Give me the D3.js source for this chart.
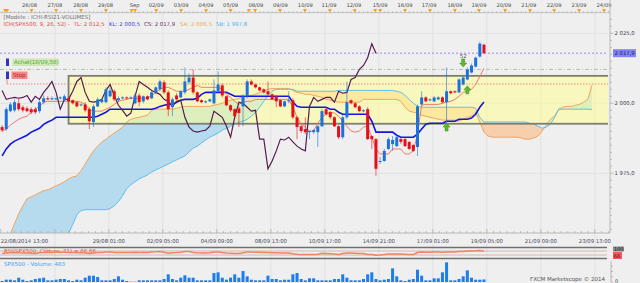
<!DOCTYPE html>
<html>
<head>
<meta charset="utf-8">
<script src="https://cdn.jsdelivr.net/npm/d3@7"></script>
<style>
  html, body { margin: 0; padding: 0; background: #efefef; }
  svg { display: block; font-family: "DejaVu Sans", Verdana, sans-serif; }
</style>
</head>
<body>
<svg id="vis"></svg>
<script>
/**
 * Call our functions on window load event
 */
window.onload = function(){
    setup();
};

// panel boxes (magic numbers)
const MAIN = {left: 0, right: 608, top: 13, bottom: 233};
const RSI_BOX = {top: 247.5, bottom: 258.5};
const VOL_BOX = {top: 261, bottom: 282};
const AXIS_X = 610;

// 4h candles, SPX500
const opens = [1991.5,1990.8,1997.2,1997.5,2000.0,1998.6,1998.2,1997.9,1997.9,1997.2,
    2000.4,2001.8,2001.4,2001.4,2001.8,2001.1,2001.8,2001.1,2000.4,1999.3,
    1999.6,1997.9,1993.3,1998.9,2000.4,2000.4,2002.5,2004.3,2001.1,2001.8,
    2002.1,2001.8,2000.0,2002.8,2000.7,2002.5,2001.8,2003.9,2005.0,2007.5,
    2003.9,1998.6,2002.8,2002.1,2003.9,2007.5,2009.2,2003.9,2001.1,2000.4,
    2000.7,2000.0,2004.3,2006.4,2002.5,1999.3,1997.9,1998.2,1998.9,2002.5,
    2007.8,2006.7,2005.7,2005.0,2004.3,2003.2,2002.5,2001.1,1998.9,2000.7,
    2001.1,1995.0,1991.8,1990.8,1989.7,1989.7,1989.7,1991.8,1997.9,1996.8,
    1995.0,1991.8,1987.9,1995.0,2001.1,2000.0,1998.9,1997.2,1997.9,1988.3,
    1987.2,1979.1,1979.4,1983.7,1985.4,1984.7,1987.2,1987.2,1986.2,1985.1,
    1984.4,1999.6,2002.1,2001.1,2000.7,2001.4,2002.1,2000.4,2004.3,2004.3,
    2003.9,2006.7,2008.5,2011.0,2013.1,2016.7,2020.9];
const highs = [1992.2,1998.6,2000.4,2001.4,2001.8,1999.3,1998.9,1998.6,1998.6,2001.1,
    2002.8,2002.5,2002.5,2002.1,2002.5,2003.2,2002.5,2001.4,2000.7,2000.0,
    2000.4,1998.6,1999.6,2002.1,2001.8,2005.7,2005.7,2005.0,2002.5,2002.5,
    2002.5,2002.5,2003.6,2003.6,2002.8,2002.8,2004.3,2006.0,2008.5,2008.2,
    2004.6,2002.1,2003.6,2004.6,2012.8,2010.7,2012.1,2004.3,2001.4,2001.1,
    2001.8,2008.5,2011.4,2007.1,2002.8,1999.6,1998.2,1998.9,2003.2,2008.5,
    2008.5,2007.1,2006.0,2005.3,2007.8,2003.6,2002.8,2001.4,2001.1,2004.3,
    2001.8,1995.4,1992.2,1995.0,1990.4,1990.8,1992.2,1997.9,1998.6,1997.2,
    1995.4,1992.2,1995.7,2007.8,2001.4,2000.4,1999.3,1997.9,1998.6,1988.6,
    1987.6,1980.8,1983.7,1987.9,1988.3,1988.6,1987.6,1987.9,1986.5,1985.4,
    1999.6,2004.3,2002.5,2001.8,2002.5,2002.5,2002.5,2012.8,2004.6,2004.6,
    2008.9,2009.9,2012.8,2014.2,2016.7,2022.0,2021.3];
const lows = [1989.7,1990.1,1996.8,1996.8,1997.2,1996.8,1996.8,1996.1,1996.1,1996.5,
    1999.6,2001.1,2001.1,2001.1,2001.4,2000.7,2000.4,1999.6,1998.6,1998.9,
    1996.8,1990.8,1991.5,1998.6,2000.0,2000.0,2002.1,2000.7,2000.4,2001.4,
    2001.4,2001.4,1999.6,1998.9,2000.0,2001.1,2001.4,2003.2,2004.3,2003.2,
    1995.4,1995.4,2001.1,2001.8,2003.2,2006.7,2003.2,2000.4,2000.0,2000.0,
    2000.4,1999.6,2003.9,2002.1,1998.9,1996.8,1995.0,1991.5,1991.8,2001.8,
    2006.4,2005.3,2004.3,2003.6,2002.8,2001.1,1998.6,1998.6,1998.6,2000.0,
    1994.3,1987.2,1989.4,1989.0,1987.2,1989.0,1984.4,1991.5,1995.7,1994.3,
    1991.5,1987.2,1987.2,1994.3,1999.6,1998.2,1996.8,1996.8,1986.9,1983.7,
    1974.1,1978.3,1979.1,1983.3,1983.0,1984.4,1985.4,1984.4,1983.3,1982.6,
    1981.2,1999.3,2000.4,2000.7,2000.4,2001.1,2000.0,1990.8,2003.2,2003.6,
    2003.6,2006.4,2008.2,2010.7,2012.8,2016.3,2017.6];
const closes = [1990.4,1997.9,1999.6,2000.4,1997.9,1997.5,1997.2,1996.8,1996.8,2000.4,
    2001.8,2001.4,2001.8,2001.8,2002.1,2002.5,2000.7,2000.0,1998.9,1999.6,
    1997.5,1993.6,1998.9,2001.4,2001.4,2005.0,2004.6,2001.4,2001.8,2002.1,
    2001.8,2002.1,2002.8,2000.4,2002.5,2001.4,2003.9,2005.7,2007.8,2003.9,
    1997.9,2001.4,2001.4,2004.3,2007.8,2009.2,2003.9,2000.7,2000.4,2000.7,
    2001.4,2004.6,2006.7,2002.8,1999.3,1997.5,1995.4,1996.5,2002.5,2007.8,
    2006.7,2005.7,2004.6,2003.9,2003.2,2001.4,2000.7,1998.9,2000.7,2001.1,
    1995.0,1991.5,1990.1,1989.7,1990.1,1990.4,1991.8,1997.2,1996.1,1995.0,
    1991.8,1987.9,1995.0,2000.4,2000.0,1998.6,1997.2,1997.5,1987.2,1987.2,
    1976.6,1979.4,1983.0,1987.2,1986.9,1987.9,1986.2,1984.7,1983.7,1983.0,
    1998.9,2002.1,2000.7,2001.4,2002.1,2002.1,2000.4,2004.3,2003.6,2003.9,
    2008.5,2009.2,2012.1,2013.5,2016.3,2021.3,2017.9];

// ichimoku lines
const tenkan = [1990.1,1990.8,1992.2,1993.3,1994.3,1995.0,1995.4,1996.8,1997.9,1998.9,
    2000.4,2000.7,2000.7,2000.7,2000.7,2000.7,2000.7,2000.7,2000.7,2000.4,
    1999.6,1997.9,1997.2,1997.2,1997.2,1997.9,1998.6,1999.6,2000.7,2001.1,
    2001.4,2001.8,2001.8,2001.8,2001.8,2001.8,2002.8,2003.9,2005.0,2005.7,
    2005.7,2005.0,2004.3,2004.3,2004.3,2005.0,2005.7,2006.4,2005.7,2005.7,
    2005.7,2005.7,2005.7,2005.0,2003.2,2002.1,2000.7,1999.6,2000.4,2000.7,
    2000.7,2001.4,2001.4,2001.4,2001.4,2001.4,2001.4,2001.4,2001.4,2001.4,
    1998.6,1995.0,1992.5,1991.5,1990.1,1990.1,1992.9,1995.0,1996.1,1996.8,
    1996.5,1995.4,1993.6,1991.8,1990.1,1989.7,1990.1,1991.5,1991.8,1987.9,
    1983.7,1981.9,1981.9,1981.9,1983.7,1983.7,1983.7,1981.9,1981.9,1983.0,
    1989.0,1999.3,1999.6,1999.6,1999.6,1999.6,2000.0,2000.4,2000.7,2001.4,
    2002.5,2003.9,2004.3,2005.0,2006.7,2009.6,2012.5];
const kijun = [1981.2,1983.7,1985.4,1986.5,1987.2,1987.9,1988.6,1989.7,1990.4,1991.1,
    1992.5,1993.3,1994.0,1995.0,1995.0,1995.0,1995.0,1995.0,1995.0,1995.0,
    1995.0,1995.0,1995.0,1995.4,1996.1,1996.8,1997.9,1997.9,1997.9,1997.9,
    1997.9,1997.9,1997.9,1997.9,1997.9,1997.9,1997.9,1998.2,1998.9,1999.3,
    1999.6,1999.6,2000.4,2001.1,2001.4,2001.4,2001.4,2001.8,2003.2,2003.9,
    2003.9,2003.9,2003.9,2003.9,2003.9,2003.2,2002.5,2002.5,2002.5,2002.5,
    2002.5,2002.5,2002.5,2002.5,2002.5,2002.5,2002.5,2002.5,2002.5,2002.5,
    2000.4,1998.9,1998.6,1998.6,1998.6,1998.6,1998.6,1998.6,1998.6,1997.9,
    1997.9,1996.8,1996.1,1996.1,1996.1,1996.1,1996.1,1996.1,1996.1,1993.6,
    1989.7,1989.7,1989.7,1989.7,1989.7,1988.6,1987.9,1987.9,1987.9,1987.9,
    1989.0,1990.8,1992.5,1992.9,1992.9,1992.9,1992.9,1993.6,1993.6,1993.6,
    1994.3,1994.3,1994.3,1994.7,1996.1,1998.6,2000.5];
// senkou spans run 26 bars past the last candle
const senkouA = [1948.2,1950.7,1953.5,1957.0,1960.6,1963.4,1965.9,1966.6,1967.3,1968.1,
    1968.8,1969.1,1969.8,1970.5,1971.2,1972.0,1973.0,1973.7,1974.1,1975.9,
    1978.3,1980.8,1983.0,1984.7,1986.2,1987.2,1988.3,1989.4,1990.4,1991.5,
    1993.3,1994.3,1994.7,1995.0,1995.4,1995.7,1997.5,1997.9,1997.9,1997.9,
    1997.9,1997.9,1998.2,1998.6,1998.9,1998.9,1998.9,1998.9,1998.9,1998.9,
    1998.9,1999.3,1999.6,2000.0,2000.7,2001.1,2001.4,2001.8,2002.1,2002.5,
    2002.8,2003.2,2003.9,2004.3,2005.0,2005.3,2005.3,2005.3,2005.3,2005.3,
    2004.6,2003.9,2003.6,2003.2,2003.2,2002.8,2002.5,2002.1,2001.4,2001.1,
    2000.7,2000.4,2000.4,2000.4,2000.4,2000.4,2000.4,2001.4,2001.4,2001.4,
    2001.4,2001.4,2001.4,2001.4,2001.4,2001.4,2000.7,1998.6,1997.2,1996.8,
    1996.5,1995.7,1995.4,1995.0,1994.7,1994.3,1994.0,1994.0,1994.0,1994.0,
    1993.6,1994.3,1995.0,1995.4,1996.8,1993.3,1989.7,1988.3,1987.9,1987.9,
    1987.9,1987.9,1987.9,1987.9,1987.9,1987.6,1987.2,1987.2,1987.6,1988.3,
    1990.1,1992.2,1994.3,1995.4,1997.9,1998.6,1998.9,1998.9,1999.3,1999.6,
    2000.4,2001.4,2006.5];
const senkouB = [1946.0,1946.0,1946.0,1946.0,1946.0,1946.0,1946.0,1946.0,1946.0,1946.0,
    1948.0,1948.0,1948.0,1948.0,1948.0,1948.0,1953.5,1956.7,1960.2,1961.7,
    1962.0,1962.0,1962.0,1962.0,1962.0,1962.0,1962.4,1963.4,1964.9,1967.0,
    1969.5,1970.9,1972.0,1973.0,1973.7,1974.4,1975.5,1976.2,1976.9,1977.6,
    1978.3,1979.1,1979.8,1980.5,1981.2,1982.6,1984.0,1984.7,1985.8,1986.9,
    1987.9,1988.6,1989.4,1990.4,1991.1,1991.8,1992.5,1993.3,1993.6,1994.3,
    1995.4,1996.8,1998.6,2000.7,2002.8,2004.3,2005.0,2005.0,2005.0,2005.0,
    2005.0,2004.3,2004.3,2004.3,2004.3,2004.3,2004.3,2004.3,2004.3,2004.3,
    2004.3,2004.6,2004.6,2004.6,2004.6,2004.6,2004.6,2004.6,2004.6,2004.6,
    2004.6,2004.6,2004.6,2004.6,2004.6,2004.3,2003.9,2002.8,2001.4,2000.0,
    1998.9,1998.6,1998.6,1998.6,1998.6,1998.6,1998.6,1998.6,1998.6,1998.6,
    1998.6,1998.6,1998.6,1998.6,1998.2,1995.0,1993.3,1993.3,1993.3,1993.3,
    1993.3,1993.3,1993.3,1993.3,1993.3,1993.3,1993.3,1992.9,1992.5,1991.8,
    1991.1,1991.5,1992.5,1995.0,1997.9,1997.9,1997.9,1997.9,1997.9,1997.9,
    1997.9,1997.9,1997.8];

const volumes = [190,440,440,320,820,440,190,320,570,700,
    820,320,320,440,570,570,320,190,440,320,
    820,1200,1200,950,320,320,320,570,1080,440,
    190,60,60,320,320,320,320,320,320,570,
    1460,570,320,820,1270,820,820,320,320,320,
    320,1710,1840,820,440,820,1460,820,2090,1080,
    440,320,320,320,1200,570,570,320,440,440,
    1460,1710,570,320,700,700,320,320,320,320,
    570,570,1460,820,320,320,320,570,1460,1840,
    570,320,440,570,2600,1080,320,190,440,570,
    2340,1200,320,320,700,700,1840,3740,320,320,
    570,1080,2220,820,440,440,483];

const rsiValues = [45,50,53,55,52,50,49,47,46,52,
    56,57,56,57,57,58,55,54,52,52,
    49,44,50,54,55,60,61,55,56,56,
    56,56,58,54,57,55,59,62,66,58,
    48,53,55,58,64,66,56,52,51,51,
    53,59,61,55,50,47,44,46,53,60,
    59,58,57,56,55,53,52,50,51,51,
    42,37,35,34,35,36,38,47,45,43,
    39,35,44,51,50,48,46,46,36,35,
    28,31,35,39,40,41,40,38,36,35,
    55,59,57,58,59,59,57,61,60,60,
    64,66,69,71,73,76,66.66];

// axis labels
const topDayLabels = ["26/08","27/08","28/08","29/08","Sep","02/09","03/09","04/09","05/09","08/09","09/09","10/09",
    "11/09","12/09","15/09","16/09","17/09","18/09","19/09","20/09","21/09","22/09","23/09","24/09"];
const topDayBars = [6.6,12.7,18.9,24.9,31.9,37.1,43.1,49.1,55.0,61.1,67.0,73.0,
    78.7,84.7,91.0,97.0,102.8,109.0,114.8,120.8,126.8,132.9,138.9,144.9];
const markerBars = [0.7,1.2,7.1,13.0,19.0,25.0,31.2,32.0,37.1,43.1,49.1,55.0,59.4,60.9,66.9,72.9,
    78.9,84.9,89.8,91.0,97.0,103.0,109.0,114.8,121.1,127.1,132.9,138.9,144.9];
const bottomLabels = ["29/08 01:00","02/09 05:00","04/09 09:00","08/09 13:00","10/09 17:00",
    "14/09 21:00","17/09 01:00","19/09 05:00","21/09 09:00","23/09 13:00"];
const bottomLabelBars = [25.7,38.7,51.7,64.7,77.7,90.7,103.7,116.7,129.7,142.7];
const gridBars = [12.7,25.7,38.7,51.7,64.7,77.7,90.7,103.7,116.7,129.7,142.7];
const priceTicks = [1975, 2000, 2025];

// legend line of the ichimoku study
const legendParts = ["ICH(SPX500, 9, 26, 52) -  TL: 2 012,5", "KL: 2 000,5", "CS: 2 017,9", "SA: 2 006,5", "SB: 1 997,8"];
const legendColours = ["#f03a3a", "#3a3af0", "#6a2a66", "#f0a848", "#4ab4f0"];
const legendX = [3.5, 109, 144, 180, 216];
const legendWidth = [101, 31, 31, 32, 31];

// levels / drawings on the chart
const lastPrice = 2017.9;
const buyLevel = 2012.1;
const stopLevel = 2006.9;
const boxTop = 2009.8, boxBottom = 1992.7, boxStartBar = 16;
const signalBars = [107, 112, 111];
const signalPrices = [1991.5, 2004.8, 2014.4];
const signalDirs = ["up", "up", "down"];

let svgCanvas, x, y;
const priceFormat = d3.formatLocale({decimal: ",", thousands: " ", grouping: [3], currency: ["", ""]}).format(",.1f");

function setupCanvas(){
    svgCanvas = d3.select("#vis")
        .attr("width", 640)
        .attr("height", 283);

    svgCanvas.append("rect")
        .attr("width", 640).attr("height", 283)
        .attr("fill", "#efefef");

    x = d3.scaleLinear().domain([0, 146]).range([2.1, 2.1 + 146 * 4.154]);
    y = d3.scaleLinear().domain([1975, 2025]).range([173.3, 33.3]);

    let defs = svgCanvas.append("defs");
    defs.append("clipPath").attr("id", "mainClip")
        .append("rect")
        .attr("x", MAIN.left).attr("y", MAIN.top)
        .attr("width", MAIN.right - MAIN.left).attr("height", MAIN.bottom - MAIN.top);

    // grid
    svgCanvas.append("g").selectAll("line")
        .data(gridBars).enter().append("line")
        .attr("x1", d => x(d)).attr("x2", d => x(d))
        .attr("y1", MAIN.top).attr("y2", VOL_BOX.bottom)
        .attr("stroke", "#e0e0e0").attr("stroke-width", 1);
    svgCanvas.append("g").selectAll("line")
        .data(priceTicks).enter().append("line")
        .attr("x1", MAIN.left).attr("x2", MAIN.right)
        .attr("y1", d => y(d)).attr("y2", d => y(d))
        .attr("stroke", "#e2e2e2").attr("stroke-width", 1);
}

function drawCloud(){
    let defs = svgCanvas.select("defs");
    let top = MAIN.top - 10, bottom = MAIN.bottom + 40;

    let aboveLine = d3.area().x((d, i) => x(i)).y0(d => y(d)).y1(top);
    defs.append("clipPath").attr("id", "aboveB").append("path").attr("d", aboveLine(senkouB));
    defs.append("clipPath").attr("id", "aboveA").append("path").attr("d", aboveLine(senkouA));

    let g = svgCanvas.append("g").attr("clip-path", "url(#mainClip)");
    let belowLine = d3.area().x((d, i) => x(i)).y0(bottom).y1(d => y(d));

    // SA over SB -> blue, SB over SA -> peach
    g.append("g").attr("clip-path", "url(#aboveB)")
        .append("path").attr("d", belowLine(senkouA)).attr("fill", "#b6dbef");
    g.append("g").attr("clip-path", "url(#aboveA)")
        .append("path").attr("d", belowLine(senkouB)).attr("fill", "#f6cfad");

    // the yellow range box sits on the cloud
    g.append("rect")
        .attr("x", x(boxStartBar)).attr("y", y(boxTop))
        .attr("width", MAIN.right - x(boxStartBar))
        .attr("height", y(boxBottom) - y(boxTop))
        .attr("fill", "#ffff96").attr("fill-opacity", 0.55);

    let line = d3.line().x((d, i) => x(i)).y(d => y(d));
    g.append("path").attr("d", line(senkouA))
        .attr("fill", "none").attr("stroke", "#f3a45c").attr("stroke-width", 1);
    g.append("path").attr("d", line(senkouB))
        .attr("fill", "none").attr("stroke", "#5dbfeb").attr("stroke-width", 1);

    g.append("rect")
        .attr("x", x(boxStartBar)).attr("y", y(boxTop))
        .attr("width", MAIN.right - x(boxStartBar) + 4)
        .attr("height", y(boxBottom) - y(boxTop))
        .attr("fill", "none").attr("stroke", "#7d7d70").attr("stroke-width", 1.8);
}

function drawLevels(){
    let g = svgCanvas.append("g").attr("clip-path", "url(#mainClip)");
    g.append("line")
        .attr("x1", MAIN.left).attr("x2", MAIN.right)
        .attr("y1", y(lastPrice)).attr("y2", y(lastPrice))
        .attr("stroke", "#8c8cee").attr("stroke-dasharray", "2,2");
    g.append("line")
        .attr("x1", MAIN.left).attr("x2", MAIN.right)
        .attr("y1", y(buyLevel)).attr("y2", y(buyLevel))
        .attr("stroke", "#b4c0aa").attr("stroke-dasharray", "4,2,1,2");
    g.append("line")
        .attr("x1", 7).attr("x2", MAIN.right)
        .attr("y1", y(stopLevel)).attr("y2", y(stopLevel))
        .attr("stroke", "#f08888").attr("stroke-dasharray", "1.5,1.5");
    g.append("line")
        .attr("x1", 7).attr("x2", 7)
        .attr("y1", 79).attr("y2", y(stopLevel))
        .attr("stroke", "#f08888");

    // order tags
    g.append("rect").attr("x", 6).attr("y", 58.5).attr("width", 3).attr("height", 7.5).attr("fill", "#3434b4");
    g.append("rect").attr("x", 12.5).attr("y", 58.5).attr("width", 46).attr("height", 7.5).attr("fill", "#cde8b6");
    g.append("text").attr("x", 14).attr("y", 64.4).text("Achat(18/09,58)")
        .attr("font-size", 5.5).attr("fill", "#5aa83a");
    g.append("rect").attr("x", 6).attr("y", 71.5).attr("width", 3).attr("height", 7.5).attr("fill", "#3434b4");
    g.append("rect").attr("x", 11.5).attr("y", 71.5).attr("width", 16).attr("height", 7.5).attr("fill", "#f38a8a");
    g.append("text").attr("x", 13).attr("y", 77.4).text("Stop")
        .attr("font-size", 5.5).attr("fill", "#b82020");
}

function drawIchimokuLines(){
    let g = svgCanvas.append("g").attr("clip-path", "url(#mainClip)");
    let line = d3.line().x((d, i) => x(i)).y(d => y(d));

    g.append("path").attr("d", line(kijun))
        .attr("fill", "none").attr("stroke", "#1414e6").attr("stroke-width", 1.6);
    g.append("path").attr("d", line(tenkan))
        .attr("fill", "none").attr("stroke", "#f27868").attr("stroke-width", 1);

    // chikou = close plotted 26 bars back
    let chikou = closes.map((c, i) => ({bar: i - 26, value: c})).filter(d => d.bar >= 0);
    g.append("path")
        .attr("d", d3.line().x(d => x(d.bar)).y(d => y(d.value))(chikou))
        .attr("fill", "none").attr("stroke", "#561c52").attr("stroke-width", 1.2);
}

function drawCandles(){
    let g = svgCanvas.append("g").attr("clip-path", "url(#mainClip)");
    let candles = opens.map((o, i) => ({i: i, o: o, h: highs[i], l: lows[i], c: closes[i]}));
    let colour = d => d.c >= d.o ? "#1c72dc" : "#e3101a";

    g.selectAll(".wick").data(candles).enter().append("line")
        .attr("x1", d => x(d.i)).attr("x2", d => x(d.i))
        .attr("y1", d => y(d.h)).attr("y2", d => y(d.l))
        .attr("stroke", colour).attr("stroke-opacity", 0.6).attr("stroke-width", 1);
    g.selectAll(".body").data(candles).enter().append("rect")
        .attr("x", d => x(d.i) - 1.5).attr("width", 3)
        .attr("y", d => y(Math.max(d.o, d.c)))
        .attr("height", d => Math.max(1, Math.abs(y(d.o) - y(d.c))))
        .attr("fill", colour);

    // signal arrows
    signalBars.forEach(function(bar, k){
        let cx = x(bar), cy = y(signalPrices[k]), s = signalDirs[k] === "up" ? 1 : -1;
        let pts = [[0,-4],[3.5,0],[1.5,0],[1.5,4],[-1.5,4],[-1.5,0],[-3.5,0]]
            .map(p => (cx + p[0]) + "," + (cy + s * p[1])).join(" ");
        g.append("polygon").attr("points", pts)
            .attr("fill", "#5cb832").attr("stroke", "#3f8a22").attr("stroke-width", 0.5);
        if (s < 0) {
            g.append("text").attr("x", cx).attr("y", cy - 5).attr("text-anchor", "middle")
                .attr("font-size", 5.5).attr("fill", "#555").text("52");
        }
    });
}

function drawAxes(){
    let g = svgCanvas.append("g");
    // top date axis
    g.append("line").attr("x1", 0).attr("x2", AXIS_X).attr("y1", 12.7).attr("y2", 12.7)
        .attr("stroke", "#c4c4c4");
    g.selectAll(".tt").data(d3.range(0, 147)).enter().append("line")
        .attr("x1", d => x(d)).attr("x2", d => x(d)).attr("y1", 11.2).attr("y2", 12.7)
        .attr("stroke", "#a0a0a0").attr("stroke-width", 0.6);
    g.selectAll(".mk").data(markerBars).enter().append("polygon")
        .attr("points", d => (x(d) - 2) + ",9 " + (x(d) + 2) + ",9 " + x(d) + ",12.6")
        .attr("fill", "#f5a11c");
    g.selectAll(".tl").data(topDayLabels).enter().append("text")
        .attr("x", (d, i) => x(topDayBars[i])).attr("y", 6.6)
        .attr("text-anchor", "middle").attr("font-size", 5.2).attr("fill", "#4a4a4a")
        .text(d => d);

    // right price axis
    g.append("line").attr("x1", AXIS_X).attr("x2", AXIS_X).attr("y1", 0).attr("y2", MAIN.bottom)
        .attr("stroke", "#b8b8b8");
    g.selectAll(".pt").data(d3.range(1955, 2032.5, 2.5)).enter().append("line")
        .attr("x1", AXIS_X).attr("x2", d => AXIS_X + (d % 25 === 0 ? 3.5 : 2))
        .attr("y1", d => y(d)).attr("y2", d => y(d))
        .attr("stroke", "#9a9a9a").attr("stroke-width", 0.6);
    g.selectAll(".pl").data(priceTicks).enter().append("text")
        .attr("x", 614.5).attr("y", d => y(d) + 2)
        .attr("font-size", 5.3).attr("fill", "#3c3c4c")
        .text(d => priceFormat(d));
    g.append("rect").attr("x", 613).attr("y", y(lastPrice) - 4).attr("width", 23).attr("height", 8)
        .attr("fill", "#8484f4");
    g.append("text").attr("x", 614.5).attr("y", y(lastPrice) + 2)
        .attr("font-size", 5.3).attr("fill", "#1a1a66").text(priceFormat(lastPrice));

    // bottom time axis
    g.append("line").attr("x1", 0).attr("x2", AXIS_X).attr("y1", MAIN.bottom).attr("y2", MAIN.bottom)
        .attr("stroke", "#b8b8b8");
    g.selectAll(".bt").data(d3.range(-0.3, 146, 13 / 8)).enter().append("line")
        .attr("x1", d => x(d)).attr("x2", d => x(d))
        .attr("y1", (d, i) => MAIN.bottom - (i % 8 === 0 ? 4 : 2)).attr("y2", MAIN.bottom)
        .attr("stroke", "#a0a0a0").attr("stroke-width", 0.6);
    g.append("text").attr("x", 0.7).attr("y", 243).attr("font-size", 5.3).attr("fill", "#4a4a5a")
        .text("22/08/2014 13:00");
    g.selectAll(".bl").data(bottomLabels).enter().append("text")
        .attr("x", (d, i) => x(bottomLabelBars[i])).attr("y", 243)
        .attr("text-anchor", "middle").attr("font-size", 5.3).attr("fill", "#4a4a5a")
        .text(d => d);
}

function drawHeader(){
    let g = svgCanvas.append("g").attr("font-size", 5.3);
    g.append("text").attr("x", 3.5).attr("y", 19).attr("fill", "#707070")
        .attr("font-size", 5.5)
        .text("[Modèle : ICHI-RSI21-VOLUMES]");
    g.selectAll(".lg").data(legendParts).enter().append("text")
        .attr("x", (d, i) => legendX[i]).attr("y", 26)
        .attr("fill", (d, i) => legendColours[i])
        .attr("textLength", (d, i) => legendWidth[i])
        .attr("lengthAdjust", "spacing")
        .attr("xml:space", "preserve")
        .text(d => d);
}

function drawRsi(){
    let ry = d3.scaleLinear().domain([0, 100]).range([RSI_BOX.bottom - 0.5, RSI_BOX.top + 0.5]);
    let g = svgCanvas.append("g");
    [RSI_BOX.top, RSI_BOX.bottom].forEach(function(v){
        g.append("line").attr("x1", 0).attr("x2", 607).attr("y1", v).attr("y2", v)
            .attr("stroke", "#707070").attr("stroke-width", 1.3);
    });
    [70, 30].forEach(function(v){
        g.append("line").attr("x1", 0).attr("x2", 607).attr("y1", ry(v)).attr("y2", ry(v))
            .attr("stroke", "#c8a096").attr("stroke-width", 0.7);
    });
    g.append("text").attr("x", 4).attr("y", 253).attr("font-size", 5.5).attr("fill", "#e0542c")
        .text("RSI(SPX500, Clôture, 21) = 66,66");
    g.append("path")
        .attr("d", d3.line().x((d, i) => x(i)).y(d => ry(d))(rsiValues))
        .attr("fill", "none").attr("stroke", "#f08462").attr("stroke-width", 1.5);

    g.append("rect").attr("x", 613).attr("y", 246.5).attr("width", 11).attr("height", 5).attr("fill", "#8c8c8c");
    g.append("text").attr("x", 614).attr("y", 250.8).attr("font-size", 5).attr("fill", "#1a1a1a").text("100");
    g.append("rect").attr("x", 613).attr("y", 252).attr("width", 9).attr("height", 7).attr("fill", "#f05a5a");
    g.append("text").attr("x", 613.8).attr("y", 257.6).attr("font-size", 5).attr("fill", "#501010").text("66");
}

function drawVolume(){
    let vy = d3.scaleLinear().domain([0, 4000]).range([VOL_BOX.bottom, VOL_BOX.top]);
    let g = svgCanvas.append("g");
    g.append("text").attr("x", 4).attr("y", 265.5).attr("font-size", 5.5).attr("fill", "#3a9cf0")
        .text("SPX500 - Volume: 483");
    g.selectAll(".vb").data(volumes).enter().append("rect")
        .attr("x", (d, i) => x(i) - 1.5).attr("width", 3)
        .attr("y", d => vy(d)).attr("height", d => VOL_BOX.bottom - vy(d))
        .attr("fill", "#1a7ef0");
    g.append("line").attr("x1", 611).attr("x2", 611).attr("y1", VOL_BOX.top).attr("y2", VOL_BOX.bottom)
        .attr("stroke", "#b8b8b8");
    g.selectAll(".vt").data([0, 1000, 2000, 3000]).enter().append("line")
        .attr("x1", 611).attr("x2", 613).attr("y1", d => vy(d)).attr("y2", d => vy(d))
        .attr("stroke", "#9a9a9a").attr("stroke-width", 0.6);
    g.append("text").attr("x", 615).attr("y", 282.5).attr("font-size", 5).attr("fill", "#444").text("0");
    g.append("text").attr("x", 605).attr("y", 281).attr("text-anchor", "end")
        .attr("font-size", 5.5).attr("fill", "#555").text("FXCM Marketscope © 2014");
}

function setup(){
    setupCanvas();
    drawCloud();
    drawLevels();
    drawIchimokuLines();
    drawCandles();
    drawAxes();
    drawHeader();
    drawRsi();
    drawVolume();
}
</script>
</body>
</html>
